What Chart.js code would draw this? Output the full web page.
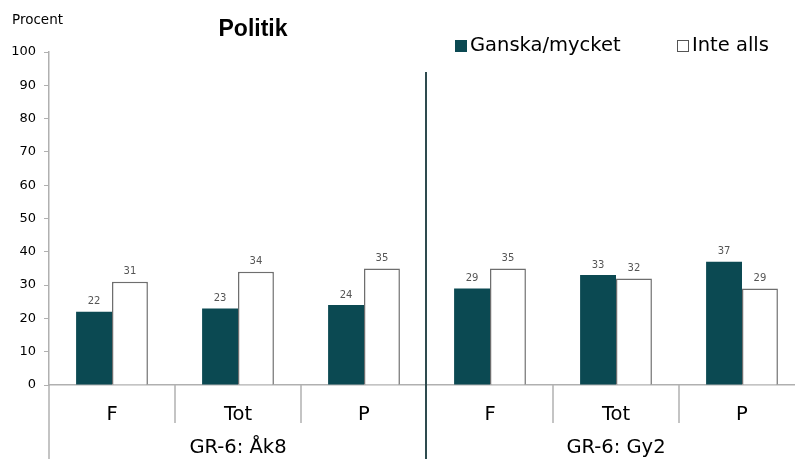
<!DOCTYPE html>
<html>
<head>
<meta charset="utf-8">
<script src="https://cdn.jsdelivr.net/npm/chart.js@4/dist/chart.umd.min.js"></script>
<style>
  html, body { margin: 0; padding: 0; background: #fff; overflow: hidden; }
  #wrap { width: 810px; height: 459px; position: relative; }
</style>
</head>
<body>
<div id="wrap"><canvas id="chart"></canvas></div>
<script>
const categories = ["F", "Tot", "P", "F", "Tot", "P"];
const groups = ["GR-6: Åk8", "GR-6: Gy2"];
const ganska = [22, 23, 24, 29, 33, 37];
const inteAlls = [31, 34, 35, 35, 32, 29];
const yTicks = [0, 10, 20, 30, 40, 50, 60, 70, 80, 90, 100];

const darkColor = "#0b4952";
const font = "'DejaVu Sans', Verdana, sans-serif";

const extras = {
  id: "extras",
  afterDraw(chart) {
    const { ctx, chartArea, scales } = chart;
    const x = scales.x;
    const bottom = chart.height;
    ctx.save();

    // y axis continues down through the label area
    ctx.strokeStyle = "#b0b0b0";
    ctx.lineWidth = 1.5;
    ctx.beginPath();
    ctx.moveTo(chartArea.left, chartArea.bottom);
    ctx.lineTo(chartArea.left, bottom);
    ctx.stroke();

    // category dividers
    for (let i = 1; i < categories.length; i++) {
      const px = (x.getPixelForValue(i - 1) + x.getPixelForValue(i)) / 2;
      ctx.beginPath();
      if (i === 3) {
        ctx.strokeStyle = "#2e4b4f";
        ctx.lineWidth = 2;
        ctx.moveTo(px - 1, chartArea.top + 20);
        ctx.lineTo(px - 1, bottom);
      } else {
        ctx.strokeStyle = "#b0b0b0";
        ctx.lineWidth = 1.5;
        ctx.moveTo(px, chartArea.bottom);
        ctx.lineTo(px, chartArea.bottom + 38);
      }
      ctx.stroke();
    }

    // group labels
    ctx.fillStyle = "#000";
    ctx.font = "19.5px " + font;
    ctx.textAlign = "center";
    ctx.textBaseline = "middle";
    groups.forEach((g, gi) => {
      const cx = (x.getPixelForValue(gi * 3) + x.getPixelForValue(gi * 3 + 2)) / 2;
      ctx.fillText(g, cx, chartArea.bottom + 63);
    });

    // value labels
    ctx.fillStyle = "#555";
    ctx.font = "10px " + font;
    ctx.textBaseline = "bottom";
    chart.data.datasets.forEach((ds, di) => {
      chart.getDatasetMeta(di).data.forEach((bar, i) => {
        ctx.fillText(String(ds.data[i]), bar.x, bar.y - 5);
      });
    });

    // title and y label
    ctx.fillStyle = "#000";
    ctx.font = "bold 23px 'Liberation Sans', Arial, sans-serif";
    ctx.textBaseline = "middle";
    ctx.fillText("Politik", 253, 30);
    ctx.font = "13.5px " + font;
    ctx.textAlign = "left";
    ctx.fillText("Procent", 12, 20);

    // legend
    ctx.font = "19.5px " + font;
    ctx.fillStyle = darkColor;
    ctx.fillRect(455, 40, 12, 12);
    ctx.fillStyle = "#000";
    ctx.fillText("Ganska/mycket", 470, 46);
    ctx.fillStyle = "#fff";
    ctx.strokeStyle = "#555";
    ctx.lineWidth = 1;
    ctx.fillRect(677.5, 40.5, 11, 11);
    ctx.strokeRect(677.5, 40.5, 11, 11);
    ctx.fillStyle = "#000";
    ctx.fillText("Inte alls", 692, 46);

    ctx.restore();
  }
};

new Chart(document.getElementById("chart"), {
  type: "bar",
  data: {
    labels: categories,
    datasets: [
      {
        label: "Ganska/mycket",
        data: ganska,
        backgroundColor: darkColor,
        borderColor: darkColor,
        borderWidth: 0,
        categoryPercentage: 0.57,
        barPercentage: 1.0,
      },
      {
        label: "Inte alls",
        data: inteAlls,
        backgroundColor: "#ffffff",
        borderColor: "#6e6e6e",
        borderWidth: 1.5,
        borderSkipped: "bottom",
        categoryPercentage: 0.57,
        barPercentage: 1.0,
      },
    ],
  },
  options: {
    responsive: true,
    maintainAspectRatio: false,
    animation: false,
    layout: { padding: { top: 52, left: 0, right: 5, bottom: 0 } },
    plugins: {
      legend: { display: false },
      title: { display: false },
      tooltip: { enabled: false },
    },
    scales: {
      x: {
        offset: true,
        grid: { display: false },
        border: { color: "#b0b0b0", width: 1.5 },
        ticks: {
          color: "#000",
          font: { family: font, size: 19.5 },
          padding: 10,
        },
        afterFit(scale) {
          scale.height = 74;
        },
      },
      y: {
        min: 0,
        max: 100,
        afterBuildTicks(scale) {
          scale.ticks = yTicks.map((v) => ({ value: v }));
        },
        grid: {
          drawOnChartArea: false,
          tickLength: 5,
          color: "#b0b0b0",
        },
        border: { color: "#b0b0b0", width: 1.5 },
        ticks: {
          color: "#000",
          font: { family: font, size: 13 },
          padding: 8,
        },
        afterFit(scale) {
          scale.width = 49;
        },
      },
    },
  },
  plugins: [extras],
});
</script>
</body>
</html>
